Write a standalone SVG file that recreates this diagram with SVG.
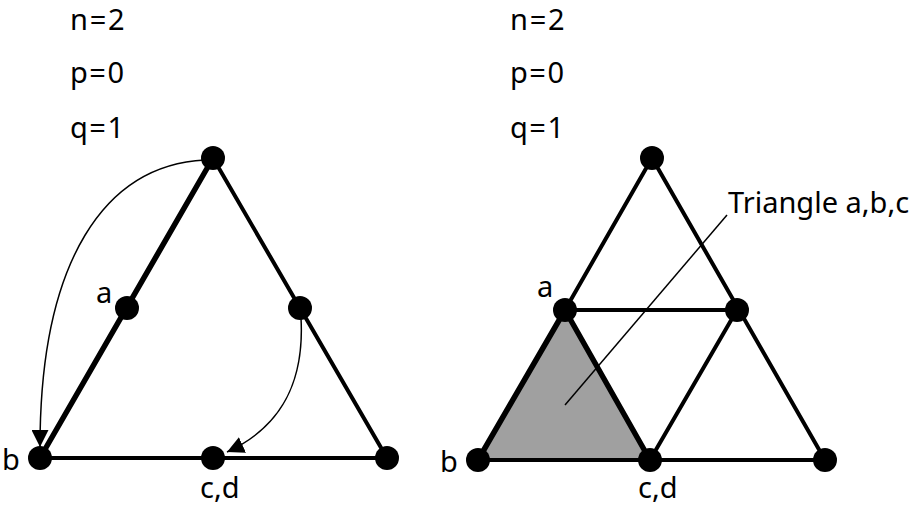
<svg xmlns="http://www.w3.org/2000/svg" width="916" height="511" viewBox="0 0 916 511">
<defs>
<style>
.t{font-family:"Noto Sans","Open Sans",sans-serif;font-size:29px;fill:#000}
.e{stroke:#000;stroke-width:4;fill:none;stroke-linecap:round}
.ek{stroke:#000;stroke-width:5.5;fill:none;stroke-linecap:round}
.n{fill:#000}
.c{stroke:#000;stroke-width:1.5;fill:none}
</style>
<marker id="ah" viewBox="0 0 10 10" refX="10" refY="5" markerWidth="17" markerHeight="17" markerUnits="userSpaceOnUse" orient="auto">
<path d="M0,0 L10,5 L0,10 z" fill="#000"/>
</marker>
</defs>
<rect width="916" height="511" fill="#fff"/>
<g id="labels-left">
<text class="t" x="70" y="30" font-size="28" letter-spacing="1.8">n=2</text>
<text class="t" x="70" y="83" letter-spacing="1.5">p=0</text>
<text class="t" x="70" y="138" letter-spacing="1.5">q=1</text>
</g>
<g id="labels-right">
<text class="t" x="510" y="30" font-size="28" letter-spacing="1.8">n=2</text>
<text class="t" x="510" y="83" letter-spacing="1.5">p=0</text>
<text class="t" x="510" y="138" letter-spacing="1.5">q=1</text>
</g>
<g id="shaded-triangle">
<polygon points="565,310 478,460 650,460" fill="#a0a0a0"/>
</g>
<g id="edges">
<line class="ek" x1="40" y1="458" x2="213" y2="158"/>
<line class="e" x1="213" y1="158" x2="387" y2="458"/>
<line class="e" x1="40" y1="458" x2="387" y2="458"/>
<line class="e" x1="652" y1="158" x2="825" y2="460"/>
<line class="e" x1="652" y1="158" x2="565" y2="310"/>
<line class="e" x1="565" y1="310" x2="737" y2="310"/>
<line class="e" x1="737" y1="310" x2="650" y2="460"/>
<line class="e" x1="478" y1="460" x2="825" y2="460"/>
<line class="ek" x1="565" y1="310" x2="478" y2="460"/>
<line class="ek" x1="565" y1="310" x2="650" y2="460"/>
</g>
<g id="connectors">
<path class="c" d="M205,160 C105,165 40,260 40,447" marker-end="url(#ah)"/>
<path class="c" d="M301,318 C305,390 275,430 227,452" marker-end="url(#ah)"/>
<line class="c" x1="565" y1="405" x2="727" y2="215"/>
</g>
<g id="nodes-left">
<circle class="n" cx="213" cy="158" r="12"/>
<circle class="n" cx="127" cy="308" r="12"/>
<circle class="n" cx="300" cy="308" r="12"/>
<circle class="n" cx="40" cy="458" r="12"/>
<circle class="n" cx="213" cy="458" r="12"/>
<circle class="n" cx="387" cy="458" r="12"/>
</g>
<g id="nodes-right">
<circle class="n" cx="652" cy="158" r="12"/>
<circle class="n" cx="565" cy="310" r="12"/>
<circle class="n" cx="737" cy="310" r="12"/>
<circle class="n" cx="478" cy="460" r="12"/>
<circle class="n" cx="650" cy="460" r="12"/>
<circle class="n" cx="825" cy="460" r="12"/>
</g>
<g id="node-labels">
<text class="t" x="96" y="303">a</text>
<text class="t" x="2" y="470">b</text>
<text class="t" x="200" y="498">c,d</text>
<text class="t" x="537" y="297">a</text>
<text class="t" x="440" y="472">b</text>
<text class="t" x="638" y="498">c,d</text>
<text class="t" x="728" y="213" font-size="30">Triangle a,b,c</text>
</g>
</svg>
